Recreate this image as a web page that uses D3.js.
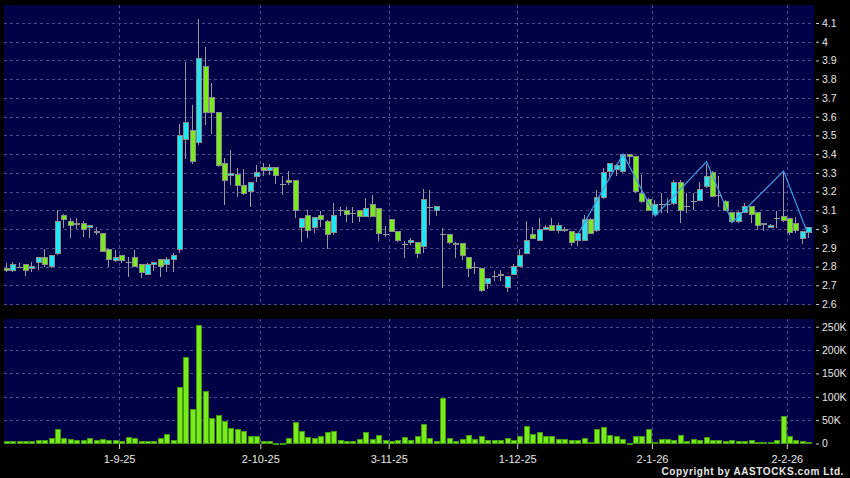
<!DOCTYPE html>
<html>
<head>
<meta charset="utf-8">
<script src="https://cdn.jsdelivr.net/npm/d3@7"></script>
<style>
  html, body { margin: 0; padding: 0; background: #000; }
  svg { display: block; font-family: "Liberation Sans", Arial, sans-serif; }
</style>
</head>
<body>
<svg id="chart"></svg>
<script>
// daily candles, one per trading day (early Aug 2025 -> early Feb 2026)
const open = [2.79,2.78,2.80,2.81,2.79,2.82,2.85,2.80,2.87,3.07,
  3.04,3.025,3.03,3.01,2.985,2.975,2.89,2.83,2.86,2.825,
  2.85,2.81,2.76,2.81,2.84,2.81,2.84,2.89,3.48,3.525,
  3.46,3.87,3.70,3.62,3.35,3.285,3.29,3.23,3.20,3.28,
  3.33,3.31,3.33,3.24,3.26,3.26,3.01,3.07,3.01,3.07,
  3.04,2.98,3.10,3.10,3.086,3.10,3.065,3.13,3.11,2.973,
  3.05,2.985,2.92,2.928,2.93,2.906,3.117,3.10,2.972,2.97,
  2.925,2.925,2.846,2.80,2.79,2.712,2.748,2.76,2.69,2.758,
  2.80,2.868,2.97,2.94,3.00,3.02,2.99,3.00,2.986,2.94,
  2.94,3.052,2.99,3.17,3.306,3.32,3.306,3.40,3.386,3.19,
  3.16,3.08,3.133,3.134,3.138,3.25,3.125,3.152,3.15,3.227,
  3.30,3.183,3.147,3.09,3.04,3.09,3.12,3.09,3.03,3.01,
  3.058,3.067,3.055,3.032,2.952,2.98];
const high = [2.82,2.825,2.82,2.81,2.825,2.85,2.896,2.86,3.10,3.08,
  3.057,3.057,3.043,3.02,3.01,2.976,2.896,2.89,2.86,2.85,
  2.89,2.81,2.82,2.826,2.84,2.85,2.87,3.56,3.89,3.66,
  4.12,3.97,3.78,3.62,3.377,3.42,3.325,3.32,3.25,3.343,
  3.352,3.35,3.33,3.285,3.31,3.26,3.055,3.10,3.06,3.095,
  3.05,3.14,3.12,3.12,3.12,3.10,3.168,3.18,3.11,3.016,
  3.05,2.985,2.935,2.95,2.93,3.214,3.21,3.12,3.007,2.975,
  2.93,2.925,2.85,2.822,2.79,2.74,2.775,2.784,2.75,2.815,
  2.895,3.043,3.013,3.057,3.022,3.057,3.03,3.01,2.99,2.98,
  3.075,3.06,3.208,3.325,3.355,3.35,3.40,3.40,3.39,3.29,
  3.165,3.155,3.195,3.165,3.262,3.26,3.19,3.19,3.253,3.35,
  3.31,3.284,3.156,3.09,3.095,3.138,3.12,3.09,3.035,3.025,
  3.094,3.31,3.055,3.067,2.99,3.012];
const low = [2.77,2.77,2.79,2.75,2.77,2.78,2.80,2.79,2.86,3.006,
  2.95,3.00,2.958,2.95,2.97,2.88,2.80,2.826,2.82,2.745,
  2.80,2.74,2.755,2.778,2.745,2.77,2.77,2.87,3.375,3.35,
  3.45,3.555,3.51,3.33,3.13,3.235,3.17,3.18,3.12,3.25,
  3.285,3.29,3.24,3.18,3.237,3.06,2.93,2.953,2.98,3.01,
  2.895,2.97,3.068,3.04,3.03,3.037,3.065,3.065,2.936,2.957,
  2.984,2.93,2.846,2.913,2.846,2.87,3.023,3.072,2.687,2.92,
  2.846,2.834,2.745,2.76,2.663,2.68,2.725,2.725,2.663,2.755,
  2.80,2.865,2.95,2.94,2.995,2.988,2.98,2.985,2.91,2.91,
  2.94,2.975,2.985,3.16,3.28,3.283,3.30,3.35,3.19,3.138,
  3.095,3.07,3.088,3.088,3.13,3.032,3.088,3.10,3.15,3.22,
  3.17,3.12,3.095,3.035,3.035,3.09,3.032,2.996,2.99,3.005,
  3.005,3.04,2.97,2.98,2.922,2.952];
const close = [2.78,2.81,2.80,2.78,2.80,2.85,2.81,2.86,3.04,3.05,
  3.02,3.03,3.00,3.02,2.98,2.88,2.84,2.85,2.83,2.825,
  2.80,2.77,2.81,2.82,2.80,2.84,2.86,3.50,3.57,3.36,
  3.91,3.62,3.62,3.34,3.26,3.295,3.23,3.19,3.25,3.30,
  3.31,3.33,3.285,3.24,3.25,3.10,3.055,2.99,3.06,3.05,
  2.97,3.07,3.10,3.08,3.086,3.065,3.11,3.065,2.975,2.973,
  2.985,2.94,2.92,2.938,2.87,3.156,3.117,3.12,2.972,2.93,
  2.918,2.857,2.79,2.80,2.67,2.735,2.748,2.75,2.748,2.80,
  2.86,2.94,2.95,3.00,3.008,2.99,3.02,2.99,2.93,2.974,
  3.052,2.978,3.17,3.30,3.35,3.34,3.398,3.39,3.20,3.147,
  3.10,3.133,3.133,3.134,3.25,3.10,3.125,3.152,3.212,3.28,
  3.175,3.183,3.10,3.04,3.09,3.12,3.08,3.02,3.025,3.02,
  3.058,3.045,2.98,2.99,2.988,3.01];
// volume in thousands of shares
const volumeK = [4,4,4,4,5,6,6,11,29,11,
  9,6,7,11,7,9,7,6,5,13,
  10,4,4,4,10,19,7,120,184,73,
  253,112,53,60,48,33,31,26,16,14,
  4,4,1,1,10,45,26,12,10,14,
  24,26,6,4,5,8,24,9,17,7,
  5,7,13,6,14,41,11,5,97,11,
  5,8,18,8,15,7,7,6,11,6,
  16,37,20,24,14,14,9,9,7,6,
  11,2,30,35,18,16,8,1,16,15,
  29,3,9,9,6,18,4,9,6,13,
  6,6,5,6,5,4,6,3,2,2,
  6,58,14,6,5,2];

// zigzag overlay (candle index, price)
const zigIdx = [89, 96, 101, 109, 113, 121, 124.6];
const zigVal = [2.975, 3.40, 3.07, 3.36, 3.035, 3.31, 2.99];

// axis ticks
const priceTicks = [2.6,2.7,2.8,2.9,3.0,3.1,3.2,3.3,3.4,3.5,3.6,3.7,3.8,3.9,4.0,4.1];
const volTicks = [0, 50000, 100000, 150000, 200000, 250000];
const dateLabels = ["1-9-25", "2-10-25", "3-11-25", "1-12-25", "2-1-26", "2-2-26"];
const dateIdx = [17.5, 39.5, 59.5, 79.5, 100.5, 121.5];

// chart settings
const width = 850, height = 478;
const n = close.length;
const plotLeft = 4, plotRight = 814;
const pricePanel = { top: 5, bottom: 305 };
const volPanel = { top: 319, bottom: 444 };

const navy = "#000046";
const gridColor = "#4b4b8c";
const upColor = "#1ee8f4";
const downColor = "#79ea1c";
const edgeColor = "#8c8c8c";
const textColor = "#e6e6e6";

const svg = d3.select("#chart")
  .attr("width", width)
  .attr("height", height)
  .attr("viewBox", [0, 0, width, height]);

svg.append("rect").attr("width", width).attr("height", height).attr("fill", "#000");

const x = d3.scaleBand().domain(d3.range(n)).range([3.5, 812.5]);
const xi = d3.scaleLinear().domain([0, n - 1])
  .range([x(0) + x.step() / 2, x(n - 1) + x.step() / 2]);
const y = d3.scaleLinear().domain([2.6, 4.1]).range([304, 23]);
const yv = d3.scaleLinear().domain([0, 250000]).range([443.5, 326.7]);

const px = v => Math.round(v) + 0.5;

// panels
[pricePanel, volPanel].forEach(p => {
  svg.append("rect")
    .attr("x", plotLeft).attr("y", p.top)
    .attr("width", plotRight - plotLeft).attr("height", p.bottom - p.top)
    .attr("fill", navy);
});

// grid
const grid = svg.append("g")
  .attr("stroke", gridColor).attr("stroke-width", 1)
  .attr("stroke-dasharray", "3,3").attr("shape-rendering", "crispEdges");

grid.selectAll(".hp").data(priceTicks).join("line")
  .attr("x1", plotLeft).attr("x2", plotRight)
  .attr("y1", d => px(y(d))).attr("y2", d => px(y(d)));

grid.selectAll(".hv").data(volTicks.slice(1)).join("line")
  .attr("class", "hv")
  .attr("x1", plotLeft).attr("x2", plotRight)
  .attr("y1", d => px(yv(d))).attr("y2", d => px(yv(d)));

[pricePanel, volPanel].forEach(p => {
  grid.append("g").selectAll("line").data(dateIdx).join("line")
    .attr("x1", d => px(xi(d))).attr("x2", d => px(xi(d)))
    .attr("y1", p.top).attr("y2", p.bottom);
});

// volume bars
svg.append("g").attr("shape-rendering", "crispEdges")
  .selectAll("rect").data(volumeK).join("rect")
  .attr("x", (d, i) => Math.round(xi(i)) - 2.5)
  .attr("width", 5)
  .attr("y", d => yv(d * 1000))
  .attr("height", d => Math.max(1, yv(0) - yv(d * 1000)))
  .attr("fill", downColor)
  .attr("stroke", "#3f9a0c");

// candles
const candles = svg.append("g").attr("shape-rendering", "crispEdges")
  .selectAll("g").data(d3.range(n)).join("g");

candles.append("line")
  .attr("x1", i => px(xi(i)) - 1).attr("x2", i => px(xi(i)) - 1)
  .attr("y1", i => y(high[i])).attr("y2", i => y(low[i]))
  .attr("stroke", "#9a9a9a");

candles.filter(i => Math.abs(close[i] - open[i]) >= 0.004)
  .append("rect")
  .attr("x", i => Math.round(xi(i)) - 2.5)
  .attr("width", 5)
  .attr("y", i => y(Math.max(open[i], close[i])))
  .attr("height", i => Math.max(1, Math.abs(y(open[i]) - y(close[i]))))
  .attr("fill", i => close[i] > open[i] ? upColor : downColor)
  .attr("stroke", edgeColor);

candles.filter(i => Math.abs(close[i] - open[i]) < 0.004)
  .append("line")
  .attr("x1", i => Math.round(xi(i)) - 3).attr("x2", i => Math.round(xi(i)) + 3)
  .attr("y1", i => px(y(close[i]))).attr("y2", i => px(y(close[i])))
  .attr("stroke", "#9a9a9a");

// zigzag
const zig = zigIdx.map((d, k) => [xi(d), y(zigVal[k])]);
svg.append("path")
  .attr("d", d3.line()(zig))
  .attr("fill", "none")
  .attr("stroke", "#3d9be0")
  .attr("stroke-width", 1.2);

// right axes
function styleAxis(g, size) {
  g.select(".domain").remove();
  g.selectAll(".tick line").attr("stroke", "#cfcfcf");
  g.selectAll(".tick text").attr("fill", textColor)
    .style("font-size", size + "px");
}

svg.append("g")
  .attr("transform", `translate(${plotRight + 2},0)`)
  .call(d3.axisRight(y).tickValues(priceTicks).tickSize(3).tickPadding(3)
    .tickFormat(d3.format("~g")))
  .call(g => styleAxis(g, 10.5));

svg.append("g")
  .attr("transform", `translate(${plotRight + 2},0)`)
  .call(d3.axisRight(yv).tickValues(volTicks).tickSize(3).tickPadding(3)
    .tickFormat(d => d === 0 ? "0" : d / 1000 + "K"))
  .call(g => styleAxis(g, 10.5));

// date axis
const dates = svg.append("g")
  .attr("transform", `translate(0,${volPanel.bottom})`)
  .call(d3.axisBottom(xi).tickValues(dateIdx).tickSize(5).tickPadding(6)
    .tickFormat((d, k) => dateLabels[k]));
dates.select(".domain").remove();
dates.selectAll(".tick line").attr("stroke", "#cfcfcf");
dates.selectAll(".tick text").attr("fill", textColor).style("font-size", "11px");

svg.append("text")
  .attr("x", 844).attr("y", 475)
  .attr("text-anchor", "end")
  .attr("fill", textColor)
  .style("font-size", "10px")
  .style("font-weight", "bold")
  .style("letter-spacing", "0.6px")
  .text("Copyright by AASTOCKS.com Ltd.");
</script>
</body>
</html>
